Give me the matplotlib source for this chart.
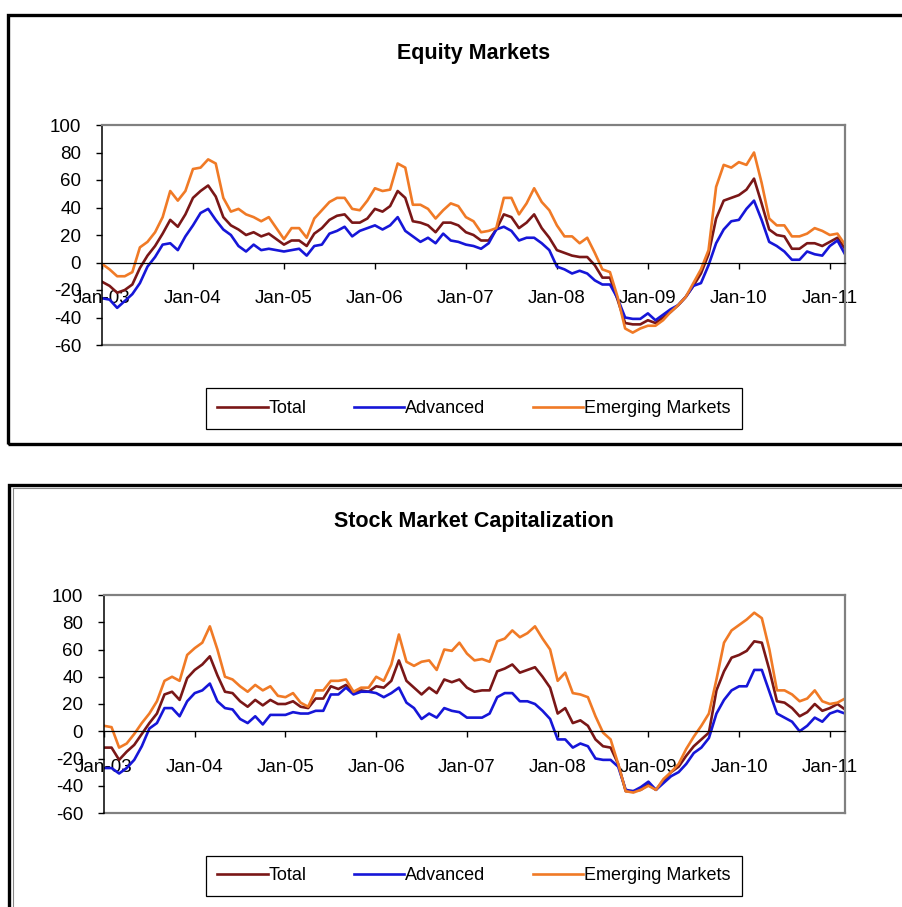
import numpy as np
import matplotlib
matplotlib.use("Agg")
from matplotlib import pyplot as plt
from matplotlib.patches import Rectangle
from matplotlib.lines import Line2D

plt.rcParams['font.family'] = ['Liberation Sans', 'DejaVu Sans']
plt.rcParams['axes.unicode_minus'] = False

# monthly series, Jan-03 .. Mar-11
tick_labels = ['Jan-03', 'Jan-04', 'Jan-05', 'Jan-06', 'Jan-07',
               'Jan-08', 'Jan-09', 'Jan-10', 'Jan-11']
series_names = ['Total', 'Advanced', 'Emerging Markets']

eq_total = [-14, -17, -22, -20, -16, -4, 5, 12, 21, 31, 26, 35, 47, 52, 56, 48, 33, 27, 24, 20,
            22, 19, 21, 17, 13, 16, 16, 12, 21, 25, 31,
            34, 35, 29, 29, 32, 39, 37, 41, 52, 47, 30, 29, 27, 22, 29, 29, 27, 22, 20, 16,
            16, 24, 35, 33, 25, 29, 35, 25, 18, 9, 7, 5, 4, 4, -2,
            -11, -11, -27,
            -44, -45, -45, -42, -44, -40, -36, -31, -25, -17, -8, 6, 32, 45, 47, 49, 53, 61,
            43, 24, 20, 19, 10, 10, 14, 14, 12, 15, 18, 10]
eq_adv = [-26, -27, -33, -28, -23, -15, -3, 4, 13, 14, 9, 19, 27, 36, 39, 31, 24, 20, 12, 8,
          13, 9, 10, 9, 8, 9, 10, 5, 12, 13, 21,
          23, 26, 19, 23, 25, 27, 24, 27, 33, 23, 19, 15, 18, 14, 21, 16, 15, 13, 12, 10,
          14, 24, 26, 23, 16, 18, 18, 14, 9, -3, -5, -8, -6, -8, -13,
          -16, -16, -26,
          -40, -41, -41, -37, -42, -38, -34, -31, -25, -17, -15, -2, 14, 24, 30, 31, 39, 45,
          31, 15, 12, 8, 2, 2, 8, 6, 5, 12, 16, 6]
eq_em = [-1, -5, -10, -10, -7, 11, 15, 22, 33, 52, 45, 52, 68, 69, 75, 72, 47, 37, 39, 35,
         33, 30, 33, 25, 17, 25, 25, 18, 32, 38, 44,
         47, 47, 39, 38, 45, 54, 52, 53, 72, 69, 42, 42, 39, 32, 38, 43, 41, 33, 30, 22,
         23, 25, 47, 47, 35, 43, 54, 44, 38, 27, 19, 19, 14, 18, 7,
         -5, -7, -25,
         -48, -51, -48, -46, -46, -42, -36, -31, -25, -15, -5, 9, 55, 71, 69, 73, 71, 80,
         58, 32, 27, 27, 19, 19, 21, 25, 23, 20, 21, 13]

mc_total = [-12, -12, -21, -15, -10, -2, 6, 13, 27, 29, 23, 39, 45, 49, 55, 41, 29, 28, 22, 18,
            23, 19, 23, 20, 20, 22, 18, 17, 24, 24, 33,
            31, 34, 29, 30, 29, 33, 32, 37, 52, 37, 32, 27, 32, 28, 38, 36, 38, 32, 29, 30,
            30, 44, 46, 49, 43, 45, 47, 40, 32, 13, 17, 6, 8, 4, -6,
            -11, -12, -24,
            -44, -44, -43, -39, -43, -36, -30, -26, -18, -11, -6, -1, 30, 44, 54, 56, 59, 66,
            65, 45, 22, 21, 17, 11, 14, 20, 15, 17, 20, 16]
mc_adv = [-27, -27, -31, -27, -21, -11, 2, 6, 17, 17, 11, 22, 28, 30, 35, 22, 17, 16, 9, 6,
          11, 5, 12, 12, 12, 14, 13, 13, 15, 15, 27,
          27, 32, 27, 29, 29, 28, 25, 28, 32, 21, 17, 9, 13, 10, 17, 15, 14, 10, 10, 10,
          13, 25, 28, 28, 22, 22, 20, 15, 9, -6, -6, -12, -9, -11, -20,
          -21, -21, -26,
          -43, -44, -41, -37, -43, -38, -33, -30, -24, -16, -12, -5, 13, 23, 30, 33, 33, 45,
          45, 29, 13, 10, 7, 0, 4, 10, 7, 13, 15, 13]
mc_em = [4, 3, -12, -9, -2, 6, 13, 22, 37, 40, 37, 56, 61, 65, 77, 60, 40, 38, 33, 29,
         34, 30, 33, 26, 25, 28, 21, 18, 30, 30, 37,
         37, 38, 29, 32, 32, 40, 37, 49, 71, 51, 48, 51, 52, 45, 60, 59, 65, 57, 52, 53,
         51, 66, 68, 74, 69, 72, 77, 68, 60, 37, 43, 28, 27, 25, 11,
         -1, -6, -24,
         -44, -45, -43, -40, -43, -35, -30, -24, -13, -4, 4, 13, 38, 65, 74, 78, 82, 87,
         83, 60, 30, 30, 27, 22, 24, 30, 22, 20, 21, 24]

colors = ['#7a1717', '#1616d8', '#f07a26']

W, H = 902, 907
fig = plt.figure(figsize=(W / 100, H / 100), dpi=100)


def fx(x):
    return x / W


def fy(y):
    return 1 - y / H


# outer chart frames
fig.patches.append(Rectangle((fx(8), fy(444)), fx(920) - fx(8), fy(15) - fy(444),
                             transform=fig.transFigure, fill=False, ec='black', lw=2.4))
fig.patches.append(Rectangle((fx(9), fy(930)), fx(920) - fx(9), fy(484.5) - fy(930),
                             transform=fig.transFigure, fill=False, ec='black', lw=2.4))
fig.lines.append(Line2D([fx(12.5), fx(12.5)], [fy(487.5), fy(907)], transform=fig.transFigure,
                        color='#888888', lw=0.8))
fig.lines.append(Line2D([fx(12.5), fx(920)], [fy(487.5), fy(487.5)], transform=fig.transFigure,
                        color='#888888', lw=0.8))


def panel(box, title, title_y, data, legend_y):
    left, top, right, bottom = box
    ax = fig.add_axes([fx(left), fy(bottom), fx(right) - fx(left), fy(top) - fy(bottom)])
    x = np.arange(len(data[0]))
    for vals, c, name in zip(data, colors, series_names):
        ax.plot(x, vals, color=c, lw=1.9, label=name)
    ax.set_xlim(0, len(x) - 1)
    ax.set_ylim(-60, 100)
    ax.set_yticks(range(-60, 101, 20))
    ax.set_xticks(range(0, len(x), 12))
    ax.set_xticklabels(tick_labels)

    for s in ['top', 'right']:
        ax.spines[s].set_color('#808080')
        ax.spines[s].set_linewidth(1.6)
    ax.spines['left'].set_color('black')
    ax.spines['left'].set_linewidth(1.1)
    ax.spines['bottom'].set_position(('data', 0))
    ax.spines['bottom'].set_color('black')
    ax.spines['bottom'].set_linewidth(0.9)
    ax.axhline(-60, color='#808080', lw=1.6, clip_on=False, zorder=0.5)

    ax.tick_params(axis='y', direction='out', length=4, width=1, labelsize=13.5, pad=11)
    ax.tick_params(axis='x', direction='out', length=4, width=1, labelsize=13.5, pad=16)

    fig.text(fx(474), fy(title_y), title, ha='center', va='center',
             fontsize=15.5, fontweight='bold')
    leg = fig.legend(*ax.get_legend_handles_labels(), loc='center', ncol=3,
                     bbox_to_anchor=(fx(474), fy(legend_y)), fontsize=13,
                     frameon=True, fancybox=False, edgecolor='black', framealpha=1,
                     handlelength=2.8, handletextpad=0.05, columnspacing=2.6,
                     borderpad=0.65)
    leg.get_frame().set_linewidth(0.9)
    return ax


panel((102, 125, 845, 345), 'Equity Markets', 54, [eq_total, eq_adv, eq_em], 408.5)
panel((104, 595, 845, 813), 'Stock Market Capitalization', 522,
      [mc_total, mc_adv, mc_em], 876)

fig.savefig('out.png', dpi=100)
